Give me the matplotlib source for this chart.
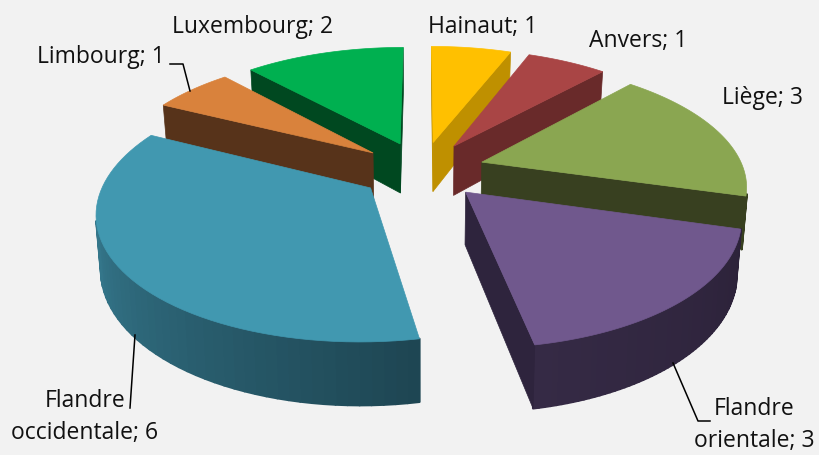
# exploded 3D pie of slices by province, drawn with a small perspective projection

import numpy as np
import matplotlib
matplotlib.use("Agg")
import matplotlib.pyplot as plt
from matplotlib.collections import PolyCollection
from matplotlib.colors import to_rgb

NAMES = ["Hainaut", "Anvers", "Liège", "Flandre\norientale", "Flandre\noccidentale", "Limbourg", "Luxembourg"]
VALUES = [1, 1, 3, 3, 6, 1, 2]

TOP_COLORS = ["#ffc000", "#a94545", "#8aa651", "#70588d", "#4198b0", "#d9823c", "#00b050"]
SIDE_COLORS = ["#bf9000", "#692a2a", "#384020", "#2e243d", "#2a6578", "#57331a", "#004820"]
# wall shading, first and last colour along the arc
WALL_START = ["#bf9000", "#692a2a", "#384020", "#2c2239", "#1e4653", "#57331a", "#004820"]
WALL_END = ["#bf9000", "#692a2a", "#384020", "#352a45", "#3f8da5", "#57331a", "#004820"]

BG = "#f2f2f2"
CX, CY = 422, 170      # pie centre in pixels
SX, SY = 262, 121      # radius on screen
PERSP = 0.17           # how much the far side shrinks
DEPTH = 51             # thickness in pixels
EXPLODE = 0.24         # slice offset, in radii


def project(x, y, z=0.0):
    w = 1 + PERSP * np.asarray(y)
    px = CX + SX * np.asarray(x) * (1 - 0.015 * z) / w
    py = CY + (-SY * np.asarray(y) + DEPTH * z) / w
    return np.column_stack([px, py])


def area(poly):
    x, y = poly[:, 0], poly[:, 1]
    return 0.5 * np.sum(x * np.roll(y, -1) - np.roll(x, -1) * y)


def draw_slice(ax, a0, a1, i):
    mid = (a0 + a1) / 2
    ox, oy = EXPLODE * np.sin(mid), EXPLODE * np.cos(mid)
    t = np.linspace(a0, a1, 60)
    ax_x, ax_y = ox + np.sin(t), oy + np.cos(t)

    # outer wall, only the segments facing us
    top = project(ax_x, ax_y, 0.0)
    bot = project(ax_x, ax_y, 1.0)
    c0, c1 = np.array(to_rgb(WALL_START[i])), np.array(to_rgb(WALL_END[i]))
    quads, cols = [], []
    for k in range(len(t) - 1):
        q = np.array([top[k], top[k + 1], bot[k + 1], bot[k]])
        if area(q) > 0:
            continue
        f = k / (len(t) - 2)
        quads.append(q)
        cols.append(c0 + (c1 - c0) * f)
    if quads:
        # thick edges so no seams show between the strips
        ax.add_collection(PolyCollection(quads, facecolors=cols, edgecolors=cols, linewidths=1.6))

    # the two cut faces
    for a, sign in ((a0, 1), (a1, -1)):
        ex, ey = ox + np.sin(a), oy + np.cos(a)
        p_top = project([ox, ex], [oy, ey], 0.0)
        p_bot = project([ox, ex], [oy, ey], 1.0)
        q = np.array([p_top[0], p_top[1], p_bot[1], p_bot[0]])
        if sign * area(q) < 0:
            ax.add_patch(plt.Polygon(q, facecolor=SIDE_COLORS[i], edgecolor=SIDE_COLORS[i], lw=0.5))

    # top face
    outline = np.vstack([project([ox], [oy], 0.0), top])
    ax.add_patch(plt.Polygon(outline, facecolor=TOP_COLORS[i], edgecolor=TOP_COLORS[i], lw=0.5))


def main():
    fig = plt.figure(figsize=(8.19, 4.55), dpi=100, facecolor=BG)
    ax = fig.add_axes([0, 0, 1, 1])
    ax.set_xlim(0, 819)
    ax.set_ylim(455, 0)
    ax.axis("off")

    total = sum(VALUES)
    edges = np.concatenate([[0], np.cumsum(VALUES)]) / total * 2 * np.pi

    # painted far slices first
    for i in [0, 1, 6, 5, 2, 3, 4]:
        draw_slice(ax, edges[i], edges[i + 1], i)

    # leader lines
    ax.plot([170, 183, 190], [64, 64, 91], color="black", lw=1.1)
    ax.plot([130, 135], [408, 335], color="black", lw=1.1)
    ax.plot([710, 698, 673], [421, 421, 363], color="black", lw=1.1)

    label_pos = [(483, 27), (638, 41), (762, 98), (754, 425), (85, 417), (101, 57), (253, 27)]
    for name, value, (x, y) in zip(NAMES, VALUES, label_pos):
        ax.text(x, y, f"{name}; {value}", ha="center", va="center", multialignment="center",
                fontsize=16.5, family="Open Sans", color="#111111", linespacing=1.45)

    fig.savefig("out.png", dpi=100, facecolor=BG)


if __name__ == "__main__":
    main()
